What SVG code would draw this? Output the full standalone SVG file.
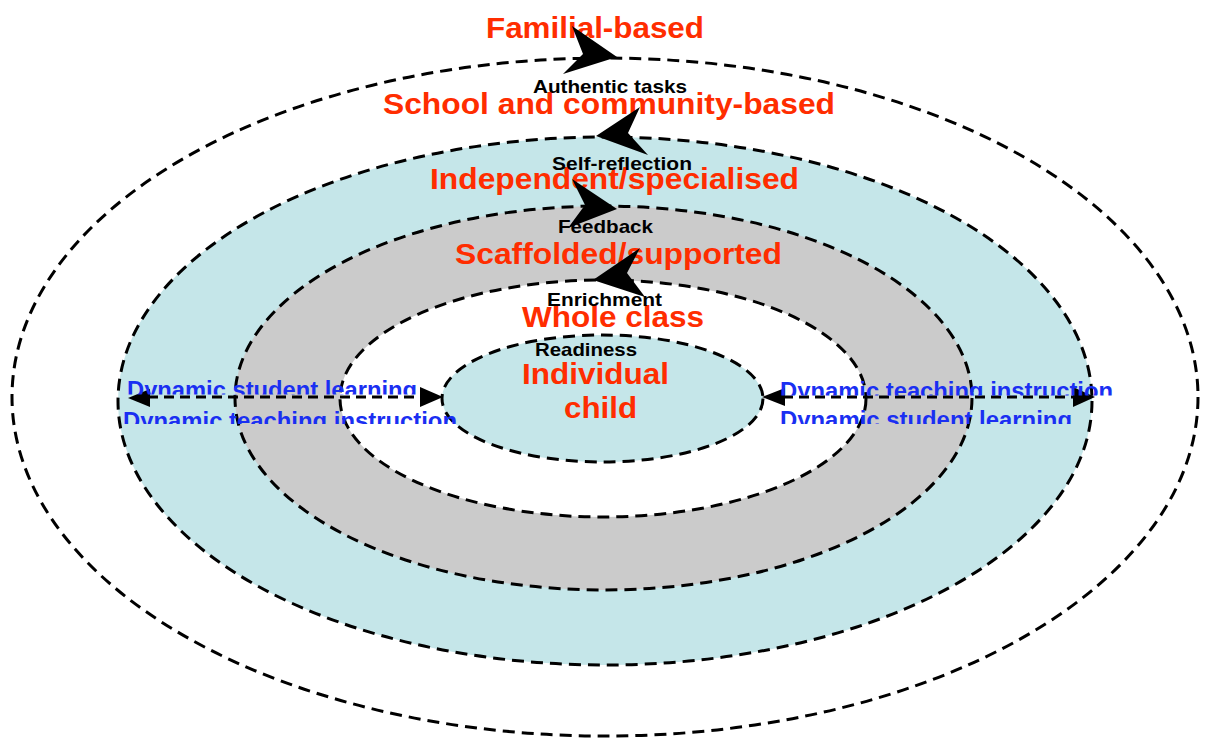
<svg xmlns="http://www.w3.org/2000/svg" width="1206" height="738" viewBox="0 0 1206 738">
  <style>
    .ring { stroke: #000; stroke-width: 3; stroke-dasharray: 12 7; }
    .level { font-family: "Liberation Sans", Arial, sans-serif; font-weight: bold; font-size: 29px; fill: #ff2d00; }
    .step { font-family: "Liberation Sans", Arial, sans-serif; font-weight: bold; font-size: 18.5px; fill: #000; }
    .dyn { font-family: "Liberation Sans", Arial, sans-serif; font-weight: bold; font-size: 23px; fill: #1a2ff2; }
    .head { fill: #000; }
    .link { stroke: #000; stroke-width: 3; stroke-dasharray: 10 6; fill: none; }
  </style>
  <defs>
    <clipPath id="clipL1"><rect x="100" y="370" width="360" height="24.5"/></clipPath>
    <clipPath id="clipL2"><rect x="100" y="400" width="380" height="24"/></clipPath>
    <clipPath id="clipR1"><rect x="770" y="370" width="360" height="25.5"/></clipPath>
    <clipPath id="clipR2"><rect x="770" y="400" width="360" height="24"/></clipPath>
  </defs>

  <rect width="1206" height="738" fill="#fff"/>

  <!-- outermost label, above the rings -->
  <g id="familial">
    <text class="level" x="486" y="38" textLength="218" lengthAdjust="spacingAndGlyphs">Familial-based</text>
  </g>

  <g id="school-community">
    <ellipse class="ring" cx="605" cy="397" rx="593" ry="339" fill="#fff"/>
    <text class="level" x="383" y="114" textLength="452" lengthAdjust="spacingAndGlyphs">School and community-based</text>
  </g>

  <g id="independent">
    <ellipse class="ring" cx="605" cy="401" rx="487" ry="264" fill="#c5e6e9"/>
    <text class="level" x="430" y="189" textLength="369" lengthAdjust="spacingAndGlyphs">Independent/specialised</text>
  </g>

  <g id="scaffolded">
    <ellipse class="ring" cx="603.5" cy="398" rx="368.5" ry="192" fill="#cbcbcb"/>
    <text class="level" x="455" y="264" textLength="327" lengthAdjust="spacingAndGlyphs">Scaffolded/supported</text>
  </g>

  <g id="whole-class">
    <ellipse class="ring" cx="603" cy="398.5" rx="263" ry="118.5" fill="#fff"/>
    <text class="level" x="522" y="327" textLength="182" lengthAdjust="spacingAndGlyphs">Whole class</text>
  </g>

  <g id="individual">
    <ellipse class="ring" cx="602.5" cy="398.5" rx="160.5" ry="63.5" fill="#c5e6e9"/>
    <text class="level" x="522" y="384" textLength="147" lengthAdjust="spacingAndGlyphs">Individual</text>
    <text class="level" x="564" y="418" textLength="73" lengthAdjust="spacingAndGlyphs">child</text>
  </g>

  <g id="connectors">
    <!-- stealth arrowheads on the top of each ring -->
    <polygon class="head" points="617,57 572,26 583,54 563,74"/>
    <polygon class="head" points="596,136 640,107 628,133 648,155"/>
    <polygon class="head" points="617,209 572,179 585,205 568,228"/>
    <polygon class="head" points="593,280 640,248 627,273 645,297"/>

    <!-- horizontal double-headed links -->
    <line class="link" x1="148" y1="397" x2="422" y2="397"/>
    <polygon class="head" points="128,398 150,389 150,407"/>
    <polygon class="head" points="443,397 420,387 420,407"/>
    <line class="link" x1="783" y1="397" x2="1075" y2="397"/>
    <polygon class="head" points="762,397 785,388 785,406"/>
    <polygon class="head" points="1095,397 1073,387 1073,407"/>

    <!-- step labels -->
    <text class="step" x="533" y="93" textLength="154" lengthAdjust="spacingAndGlyphs">Authentic tasks</text>
    <text class="step" x="552" y="170" textLength="140" lengthAdjust="spacingAndGlyphs">Self-reflection</text>
    <text class="step" x="558" y="233" textLength="95" lengthAdjust="spacingAndGlyphs">Feedback</text>
    <text class="step" x="547" y="306" textLength="115" lengthAdjust="spacingAndGlyphs">Enrichment</text>
    <text class="step" x="535" y="356" textLength="102" lengthAdjust="spacingAndGlyphs">Readiness</text>

    <!-- link labels, cut off by their text boxes -->
    <text class="dyn" x="127" y="397.5" textLength="290" lengthAdjust="spacingAndGlyphs" clip-path="url(#clipL1)">Dynamic student learning</text>
    <text class="dyn" x="123" y="429" textLength="334" lengthAdjust="spacingAndGlyphs" clip-path="url(#clipL2)">Dynamic teaching instruction</text>
    <text class="dyn" x="780" y="398.5" textLength="333" lengthAdjust="spacingAndGlyphs" clip-path="url(#clipR1)">Dynamic teaching instruction</text>
    <text class="dyn" x="780" y="427.5" textLength="292" lengthAdjust="spacingAndGlyphs" clip-path="url(#clipR2)">Dynamic student learning</text>
  </g>
</svg>
